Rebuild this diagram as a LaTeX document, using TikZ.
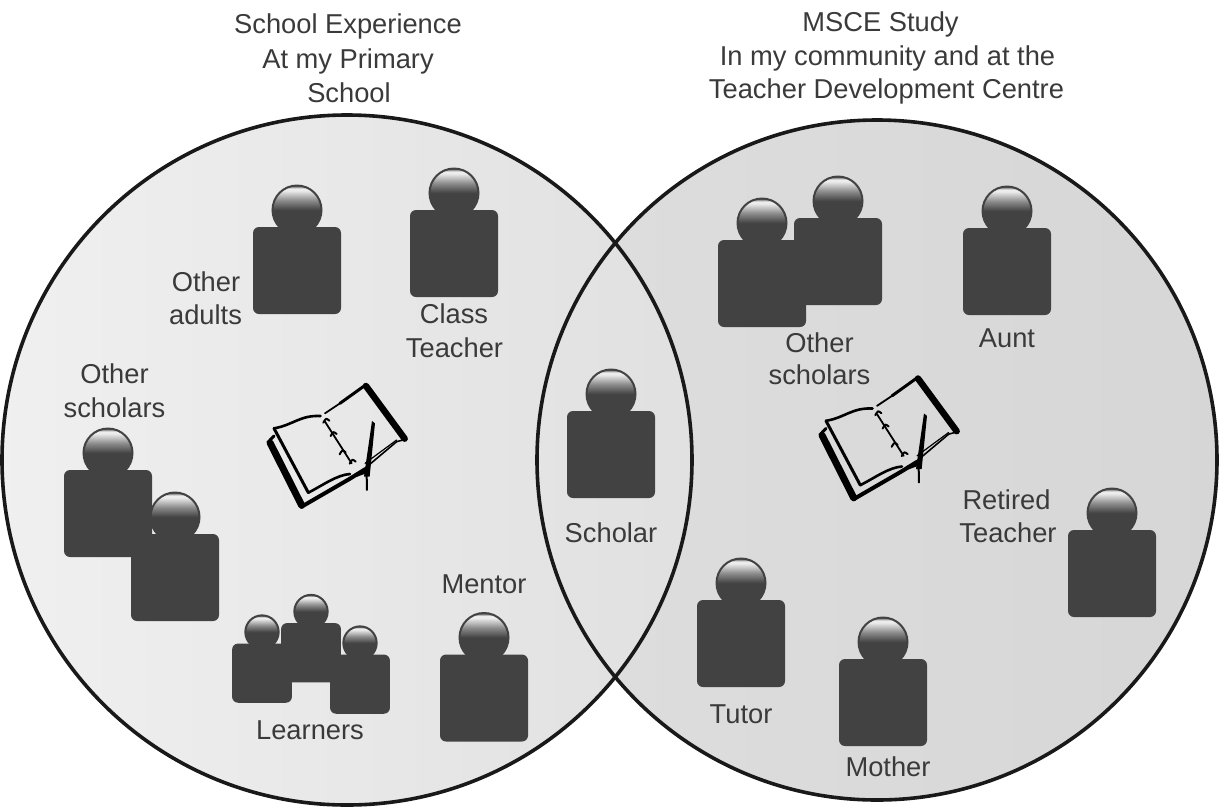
\documentclass[tikz,border=0pt]{standalone}
\usepackage{fontspec}
\setmainfont{Liberation Sans}
\definecolor{ink}{HTML}{424242}
\definecolor{txt}{HTML}{3A3A3A}
\definecolor{headhi}{HTML}{EDEDED}
\pgfdeclareverticalshading{headshade}{100bp}{color(0bp)=(ink); color(50bp)=(ink); color(60bp)=(black!45); color(70bp)=(headhi); color(72bp)=(headhi); color(75bp)=(ink); color(100bp)=(ink)}
\tikzset{
  lbl/.style={text=txt,font=\fontsize{27.3}{27.3}\selectfont,inner sep=0pt,anchor=base},
  ring/.style={draw=black!90,line width=3.6pt},
}
\newcommand{\person}[3]{% x, y = centre of body, scale
  \begin{scope}[shift={(#1,#2)},scale=#3]
    \fill[ink,rounded corners=6pt] (-44,-44) rectangle (44,43);
    \shade[shading=headshade,draw=ink,line width=2pt] (0,-61) circle (24.5);
  \end{scope}}
\newcommand{\bookicon}[2]{%
  \begin{scope}[shift={(#1,#2)},x=0.3333pt,y=-0.3333pt]
    \draw[line width=6.5pt,line cap=round,line join=round] (348,78) -- (464,236);
    \draw[line width=7pt,line cap=round,line join=round] (60,248) -- (155,436);
    \draw[line width=3pt,line cap=round] (60,240) -- (72,228);
    \draw[line width=1.8pt,line join=round,line cap=round] (225,160) -- (270,130);
    \draw[line width=3pt,line join=round,line cap=round] (270,130) -- (348,74);
    \draw[line width=4pt,line cap=round] (155,440) -- (300,356) -- (345,328);
    \draw[line width=1.6pt,line cap=round] (345,325) -- (440,245) -- (466,238);
    \draw[line width=1.2pt,line cap=round] (345,310) -- (440,240);
    \draw[line width=2.6pt,line cap=round,line join=round] (72,205) .. controls (130,195) and (150,165) .. (212,168);
    \draw[line width=3pt,line cap=round] (72,205) -- (175,398);
    \draw[line width=2.6pt,line cap=round] (175,398) .. controls (220,375) and (260,345) .. (300,342);
    \draw[line width=1.8pt,line cap=round] (225,185) -- (305,310);
    \foreach \a/\b in {228/182,250/222,277/277,307/305}{
      \draw[line width=2pt,line cap=round] (\a-8,\b+6) .. controls (\a,\b-8) .. (\a+10,\b);
    }
    \fill (366,183) -- (375,190) -- (359,350) -- (342,350) -- cycle;
    \draw[line width=2pt,line cap=round] (350,345) -- (351,390);
    \draw[line width=4pt,line cap=round] (318,345) -- (345,335);
  \end{scope}}
\begin{document}
\begin{tikzpicture}[x=1pt,y=-1pt]
  \useasboundingbox (0,0) rectangle (1219,807);
  \begin{scope}
    \clip (877,460) circle (340);
    \shade[left color=black!13,right color=black!16] (537,118) rectangle (1217,802);
  \end{scope}
  \begin{scope}
    \clip (347,460) circle (345);
    \shade[left color=black!6,right color=black!12] (2,113) rectangle (692,805);
  \end{scope}
  \draw[ring] (877,460) circle (340);
  \draw[ring] (347,460) circle (345);

  \person{297}{271}{1}
  \person{454}{254}{1}
  \person{108}{514}{1}
  \person{175}{578}{1}
  \person{484}{698.5}{1}
  \person{611}{455}{1}
  \person{262}{673.5}{0.68}
  \person{311}{653}{0.68}
  \person{360}{684.5}{0.68}
  \person{762}{284}{1}
  \person{838}{262}{1}
  \person{1007}{272}{1}
  \person{1112}{574}{1}
  \person{741}{644}{1}
  \person{883}{703}{1}

  \bookicon{250}{360}
  \bookicon{802}{352.5}

  \node[lbl] (t1) at (348,33) {School Experience};
  \node[lbl] (t2) at (348,68) {At my Primary};
  \node[lbl] (t3) at (349,102) {School};
  \node[lbl] (r1) at (880.5,31) {MSCE Study};
  \node[lbl] (r2) at (887.5,65) {In my community and at the};
  \node[lbl] (r3) at (886.5,98) {Teacher Development Centre};
  \node[lbl] (a1) at (206,291) {Other};
  \node[lbl] (a2) at (205.5,324) {adults};
  \node[lbl] (c1) at (454,323) {Class};
  \node[lbl] (c2) at (454.5,357) {Teacher};
  \node[lbl] (o1) at (114.5,383) {Other};
  \node[lbl] (o2) at (114.5,417) {scholars};
  \node[lbl] (m) at (484,593) {Mentor};
  \node[lbl] (l) at (310,739) {Learners};
  \node[lbl] (s) at (611,542) {Scholar};
  \node[lbl] (p1) at (819.5,352) {Other};
  \node[lbl] (p2) at (819.5,384) {scholars};
  \node[lbl] (au) at (1007,347) {Aunt};
  \node[lbl] (re1) at (1006.5,509) {Retired};
  \node[lbl] (re2) at (1008,542) {Teacher};
  \node[lbl] (tu) at (741,723) {Tutor};
  \node[lbl] (mo) at (888,776) {Mother};
\end{tikzpicture}
\end{document}
